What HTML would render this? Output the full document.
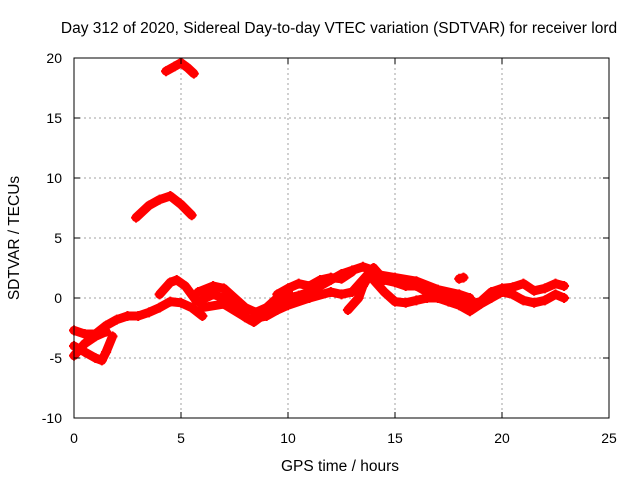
<!DOCTYPE html>
<html><head><meta charset="utf-8"><style>
body{margin:0;background:#fff}
svg{display:block;font-family:"Liberation Sans",sans-serif;font-size:14px}
</style></head><body>
<svg id="chart" width="640" height="480">
<text x="339" y="33" text-anchor="middle" font-size="15.5">Day 312 of 2020, Sidereal Day-to-day VTEC variation (SDTVAR) for receiver lord</text>
<text x="340" y="471" text-anchor="middle" font-size="15.5">GPS time / hours</text>
<text transform="translate(19,238) rotate(-90)" text-anchor="middle" font-size="15.5">SDTVAR / TECUs</text>
<g id="grid"></g><g id="marks"></g><g id="axes"></g>
</svg>
<script>
const xTicks=[0,5,10,15,20,25];
const yTicks=[-10,-5,0,5,10,15,20];
const trackTop=[[4.3,18.9],[4.7,19.3],[5,19.6],[5.3,19.2],[5.6,18.7]];
const trackArc=[[2.9,6.7],[3.5,7.7],[4,8.2],[4.5,8.5],[5,7.8],[5.5,6.9]];
const trackA=[[0,-2.7],[0.5,-3],[1,-3],[1.5,-2.3],[2,-1.8],[2.5,-1.5],[3,-1.5],[3.5,-1.2],[4,-0.8],[4.5,-0.3],[5,-0.4],[5.5,-0.8],[6,-1.5]];
const trackB=[[4,0.3],[4.5,1.3],[4.8,1.5],[5.2,1.0],[5.7,-0.2]];
const trackLow=[[0,-4],[0.5,-4.5],[1,-5],[1.3,-5.2],[1.5,-4.5],[1.8,-3.2]];
const trackLow2=[[0,-4.8],[0.5,-3.8],[1,-3.2],[1.5,-2.8]];
const trackC=[[5.8,0.5],[6.5,1.0],[7,0.8],[7.5,0],[8,-0.8],[8.5,-1.2],[9,-0.8],[9.5,0],[10,0.5]];
const trackD=[[5.8,-0.3],[6.5,0.3],[7,0],[7.5,-0.8],[8,-1.6],[8.4,-2.0],[9,-1.2],[9.5,-0.5],[10,0],[10.5,0.2],[11,0.5],[11.5,1.0],[12,1.5],[12.5,2],[13,2.3],[13.5,2.6],[14,2.3]];
const trackE=[[6,-0.8],[7,-0.5],[8.2,-1.8],[9,-1.5],[9.5,-1.0],[10,-0.6],[11,0],[12,0.5],[12.5,0.3],[13,0.5],[13.5,1.5],[14,2.5]];
const trackF=[[9.5,0.3],[10,0.8],[10.5,1.2],[11,1.0],[11.5,1.5],[12,1.7],[12.5,1.6],[13,2.2]];
const trackG=[[12.8,-1],[13.3,0],[13.5,1],[14,2.5],[14.5,1.5],[15,1.3],[15.5,1.0],[16,1.0],[16.5,0.5],[17,0.3],[17.5,0],[18,-0.2],[18.5,-0.5],[19,-0.3],[19.5,0.5],[20,0.8],[20.5,0.9],[21,1.2],[21.5,0.6],[22,0.8],[22.5,1.2],[22.9,1.0]];
const trackH=[[14,1.5],[14.5,0.5],[15,-0.3],[15.5,-0.4],[16,-0.2],[16.5,0],[17,0],[17.5,-0.3],[18,-0.6],[18.5,-1.1],[19,-0.5],[19.5,0],[20,0.5],[20.5,0.3],[21,-0.2],[21.5,-0.4],[22,-0.2],[22.5,0.3],[22.9,0]];
const trackI=[[14,2.0],[15,1.7],[16,1.4],[17,0.7],[18,0.3],[18.5,0.0]];
const trackOut=[[18.0,1.6],[18.2,1.7]];
const series=[trackTop,trackArc,trackA,trackB,trackLow,trackLow2,trackC,trackD,trackE,trackF,trackG,trackH,trackI,trackOut];

const L=74,R=609,T=58,B=418,ns="http://www.w3.org/2000/svg";
const xs=h=>L+(h-0)/25*(R-L);
const ys=v=>B-(v+10)/30*(B-T);
function mk(tag,at,parent){const e=document.createElementNS(ns,tag);for(const k in at)e.setAttribute(k,at[k]);parent.appendChild(e);return e;}
const grid=document.getElementById('grid'),axes=document.getElementById('axes'),marks=document.getElementById('marks');
xTicks.forEach(t=>{const x=xs(t);
 if(t>0&&t<25){const g=mk('line',{x1:x,x2:x,y1:T,y2:B,stroke:'#a0a0a0','stroke-dasharray':'2,3'},grid);
 
 }
 mk('line',{x1:x,x2:x,y1:B,y2:B-6,stroke:'#000'},axes);mk('line',{x1:x,x2:x,y1:T,y2:T+6,stroke:'#000'},axes);
 const tx=mk('text',{x:x,y:B+25,'text-anchor':'middle'},axes);tx.textContent=t;
 
 });
yTicks.forEach(t=>{const y=ys(t);
 if(t>-10&&t<20){const g=mk('line',{x1:L,x2:R,y1:y,y2:y,stroke:'#a0a0a0','stroke-dasharray':'2,3'},grid);
 
 }
 mk('line',{x1:L,x2:L+6,y1:y,y2:y,stroke:'#000'},axes);mk('line',{x1:R,x2:R-6,y1:y,y2:y,stroke:'#000'},axes);
 const tx=mk('text',{x:L-12,y:y+5,'text-anchor':'end'},axes);tx.textContent=t;
 
 });
const fr=mk('rect',{x:L,y:T,width:R-L,height:B-T,fill:'none',stroke:'#000'},axes);


series.forEach((s,i)=>{
 const g=mk('g',{},marks);
 
 
 if(s.length>1){mk('polyline',{points:s.map(p=>xs(p[0])+','+ys(p[1])).join(' '),fill:'none',stroke:'#ff0000','stroke-width':9,'stroke-linejoin':'round','stroke-linecap':'round'},g);}
 s.forEach(p=>{const x=xs(p[0]),y=ys(p[1]);
  const m=mk('path',{d:`M${x-5},${y}H${x+5}M${x},${y-5}V${y+5}`,stroke:'#ff0000','stroke-width':2},g);
  
  });
});
</script>
</body></html>
